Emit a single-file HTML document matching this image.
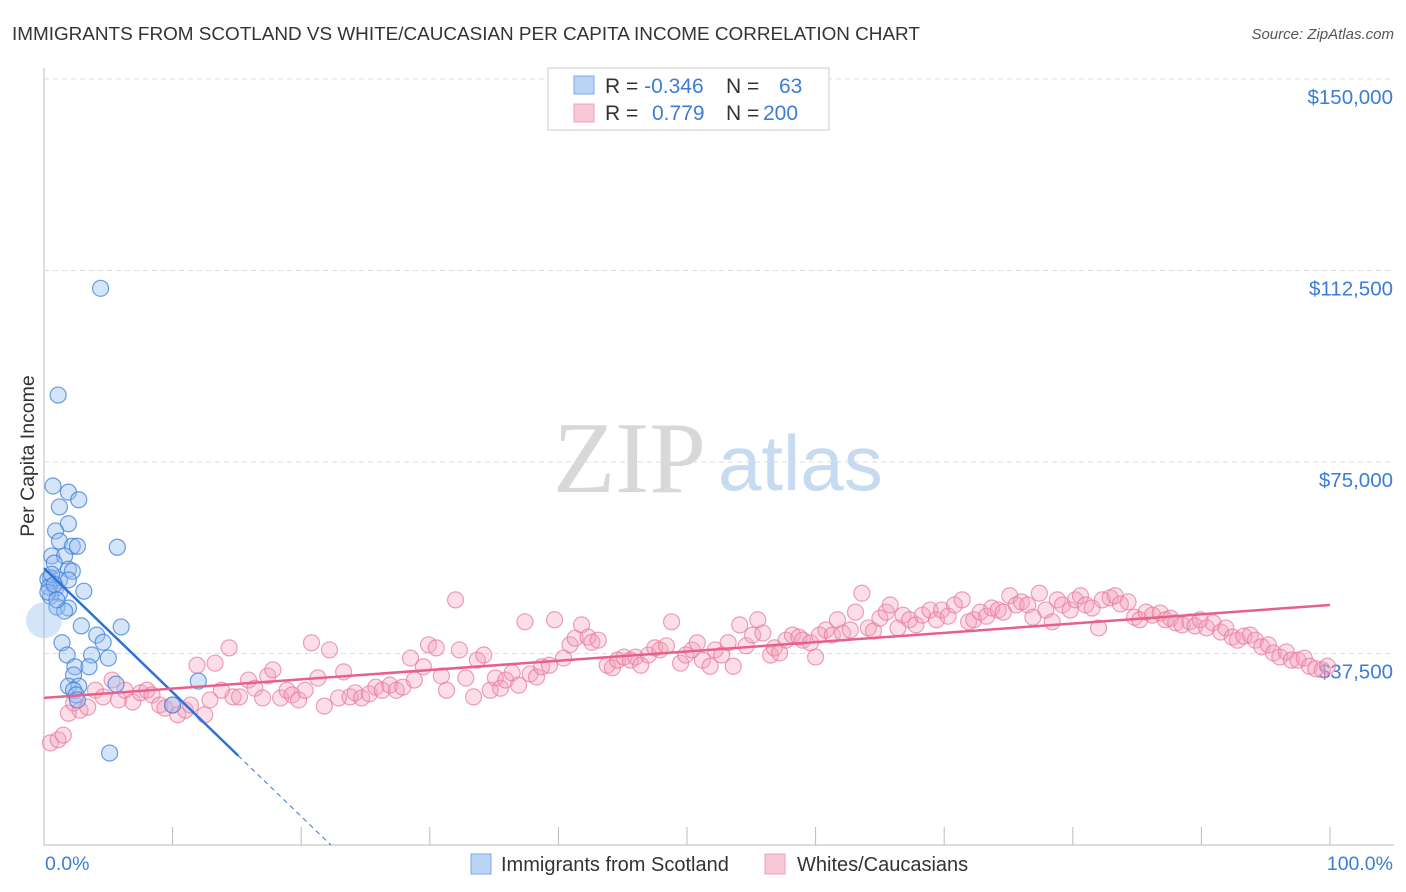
<!DOCTYPE html>
<html><head><meta charset="utf-8">
<style>
body{margin:0;background:#fff;width:1406px;height:892px;overflow:hidden;font-family:"Liberation Sans",sans-serif}
svg{position:absolute;left:0;top:0}
</style></head>
<body>
<svg id="chart" width="1406" height="892">
<text x="12" y="40" font-size="18.9" fill="#333">IMMIGRANTS FROM SCOTLAND VS WHITE/CAUCASIAN PER CAPITA INCOME CORRELATION CHART</text>
<text x="1394" y="39" font-size="15" fill="#555" font-style="italic" text-anchor="end">Source: ZipAtlas.com</text>
<text x="0" y="0" transform="translate(34,456) rotate(-90)" font-size="19.5" fill="#333" text-anchor="middle">Per Capita Income</text>
<text x="553" y="492" font-size="102" fill="#d8d8d8" font-family="Liberation Serif,serif">ZIP</text>
<text x="718" y="490" font-size="78" fill="#c6daf2">atlas</text>
<g id="grid"></g><g id="pts"></g><g id="lines"></g>
<g>
<rect x="548" y="68" width="281" height="62" fill="#fff" stroke="#ccc"/>
<rect x="574" y="76" width="20" height="18" fill="#b9d4f5" stroke="#7aaae8"/>
<rect x="574" y="104" width="20" height="18" fill="#f9c8d6" stroke="#eda0b8"/>
<text x="605" y="93" font-size="21" fill="#333">R = <tspan fill="#3b7dd8">-0.346</tspan><tspan x="726">N = </tspan><tspan x="779" fill="#3b7dd8">63</tspan></text>
<text x="605" y="120" font-size="21" fill="#333">R = <tspan x="652" fill="#3b7dd8">0.779</tspan><tspan x="726">N = </tspan><tspan x="763" fill="#3b7dd8">200</tspan></text>
</g>
<g>
<rect x="471" y="854" width="20" height="20" fill="#b9d4f5" stroke="#7aaae8"/>
<text x="501" y="871" font-size="20" fill="#333">Immigrants from Scotland</text>
<rect x="765" y="854" width="20" height="20" fill="#f9c8d6" stroke="#eda0b8"/>
<text x="797" y="871" font-size="20" fill="#333">Whites/Caucasians</text>
</g>
</svg>
<script>
const yTicks=[37500,75000,112500,150000];
const yTickLabels=["$37,500","$75,000","$112,500","$150,000"];
const xTickPcts=[0,10,20,30,40,50,60,70,80,90,100];
const blueX=[4.4,1.1,0.7,1.9,2.7,1.2,1.9,0.9,1.2,2.2,2.6,5.7,0.6,1.6,0.8,1.9,2.2,0.5,1.2,1.9,0.9,3.1,1.2,0.5,1.0,1.9,1.6,2.9,6.0,4.1,4.6,1.4,1.8,3.7,5.0,2.4,3.5,2.3,1.9,2.7,2.3,2.5,5.6,12.0,10.0,2.6,5.1,0.3,0.4,0.6,0.3,0.8,1.0];
const blueY=[109.0,88.1,70.3,69.1,67.6,66.2,62.9,61.5,59.5,58.5,58.5,58.3,56.6,56.6,55.2,54.0,53.6,52.3,51.9,51.9,50.3,49.7,49.3,48.7,46.6,46.4,45.8,42.9,42.7,41.1,39.7,39.6,37.2,37.2,36.6,34.9,34.9,33.3,31.1,31.1,30.3,29.4,31.5,32.1,27.4,28.4,18.0,52.0,50.5,53.0,49.5,51.0,48.0];
const pinkX=[0.5,1.1,1.5,1.9,2.3,2.8,3.4,4.0,4.6,5.3,5.8,6.3,6.9,7.5,8.0,8.4,9.0,9.4,10.0,10.4,11.0,11.4,11.9,12.5,12.9,13.3,13.8,14.4,14.7,15.2,15.9,16.4,17.0,17.4,17.8,18.4,18.9,19.3,19.8,20.3,20.8,21.3,21.8,22.2,22.9,23.3,23.8,24.2,24.7,25.3,25.8,26.3,26.9,27.4,27.9,28.5,28.8,29.5,29.9,30.5,30.9,31.3,32.0,32.3,32.8,33.4,33.7,34.2,34.7,35.1,35.5,35.9,36.4,36.9,37.4,37.8,38.3,38.7,39.3,39.7,40.4,40.9,41.3,41.8,42.3,42.6,43.1,43.8,44.2,44.6,45.1,45.6,46.0,46.4,47.0,47.5,47.9,48.4,48.8,49.5,49.9,50.4,50.8,51.2,51.8,52.2,52.7,53.2,53.6,54.1,54.6,55.1,55.5,55.9,56.5,56.8,57.2,57.7,58.2,58.7,59.0,59.6,60.0,60.3,60.8,61.3,61.7,62.1,62.7,63.1,63.6,64.1,64.5,65.0,65.5,65.8,66.4,66.8,67.3,67.8,68.3,68.9,69.4,69.8,70.3,70.8,71.4,71.9,72.3,72.8,73.3,73.7,74.2,74.6,75.1,75.6,76.0,76.5,76.9,77.4,77.9,78.4,78.8,79.2,79.8,80.2,80.6,81.0,81.5,82.0,82.3,82.9,83.3,83.7,84.3,84.8,85.2,85.7,86.2,86.8,87.2,87.6,88.0,88.5,89.1,89.5,89.9,90.4,90.9,91.5,91.9,92.4,92.8,93.3,93.8,94.2,94.7,95.2,95.6,96.1,96.6,97.0,97.5,98.0,98.4,98.9,99.4,99.8];
const pinkY=[20.0,20.6,21.5,25.8,27.8,26.4,27.0,30.3,29.0,32.3,28.4,30.3,28.0,29.8,30.3,29.4,27.4,26.8,27.4,25.5,26.4,27.4,35.2,25.5,28.4,35.6,30.3,38.6,29.0,29.0,32.3,30.7,28.8,33.1,34.3,28.8,30.3,29.4,28.4,30.3,39.6,32.7,27.2,38.2,28.8,33.9,29.0,29.8,28.8,29.6,30.9,30.3,31.3,30.3,30.9,36.6,32.3,34.9,39.2,38.6,33.1,30.3,48.0,38.2,32.7,29.0,36.2,37.2,30.3,32.7,30.7,32.3,33.7,31.3,43.7,33.5,32.9,34.9,35.2,44.1,36.6,39.2,40.5,43.1,40.7,39.7,40.1,35.2,34.7,36.2,36.8,36.2,36.8,35.2,37.2,38.6,38.2,39.0,43.7,35.6,37.2,38.2,39.6,36.2,35.0,38.2,37.2,39.6,35.0,43.1,39.0,41.1,44.1,41.5,37.2,38.6,37.6,40.1,41.1,40.7,40.1,39.6,36.8,41.1,42.1,41.1,44.1,41.5,42.1,45.6,49.3,42.5,41.9,44.4,45.6,47.0,42.5,45.0,44.1,43.1,45.0,46.0,44.1,46.0,44.8,47.0,48.0,43.7,44.1,45.6,44.8,46.4,46.0,45.6,48.8,47.0,47.6,47.0,44.6,49.3,46.0,43.7,48.0,47.0,46.0,48.0,48.8,47.0,46.4,42.5,48.0,48.4,48.8,47.2,47.6,44.6,44.1,45.6,45.0,45.4,44.1,44.4,43.5,43.1,43.7,42.9,44.1,42.5,43.5,41.7,42.5,40.7,40.1,40.9,41.1,40.1,38.8,39.2,37.6,36.8,37.8,36.2,36.2,36.6,35.0,34.5,34.3,35.0];
const blueTrend=[54.2,-2.43]; // intercept (k$), slope per %
const pinkTrend=[28.8,0.182];
const NS="http://www.w3.org/2000/svg";
const X0=44,X1=1330,YB=845,PXK=5.107;
const sx=p=>X0+(X1-X0)*p/100;
const sy=k=>YB-k*PXK;
function mk(t,a,parent){const e=document.createElementNS(NS,t);for(const k in a)e.setAttribute(k,a[k]);parent.appendChild(e);return e;}
const grid=document.getElementById('grid');
mk('line',{x1:X0,y1:68,x2:X0,y2:YB,stroke:'#bbb'},grid);
mk('line',{x1:X0,y1:YB,x2:1394,y2:YB,stroke:'#bbb'},grid);
yTicks.forEach((v,i)=>{const y=sy(v/1000);
 const l=mk('line',{x1:X0,y1:y,x2:1394,y2:y,stroke:'#ddd','stroke-dasharray':'5,4'},grid);
 
 
 const t=mk('text',{x:1393,y:y+25,'font-size':20.5,fill:'#3b7dd8','text-anchor':'end'},grid);t.textContent=yTickLabels[i];
 
 });
xTickPcts.forEach(p=>{if(p===0)return;const x=sx(p);
 const l=mk('line',{x1:x,y1:YB,x2:x,y2:YB-18,stroke:'#bbb'},grid);
 
 });
let t=mk('text',{x:45,y:870,'font-size':19.5,fill:'#3b7dd8'},grid);t.textContent='0.0%';


t=mk('text',{x:1393,y:870,'font-size':19.5,fill:'#3b7dd8','text-anchor':'end'},grid);t.textContent='100.0%';


const pts=document.getElementById('pts');
pinkX.forEach((p,i)=>{const c=mk('circle',{cx:sx(p),cy:sy(pinkY[i]),r:8,fill:'rgba(244,160,185,0.35)',stroke:'rgba(232,120,155,0.7)','stroke-width':1.2},pts);
 
 });
blueX.forEach((p,i)=>{const c=mk('circle',{cx:sx(p),cy:sy(blueY[i]),r:8,fill:'rgba(150,190,240,0.4)',stroke:'rgba(60,125,215,0.75)','stroke-width':1.2},pts);
 
 });
const big=mk('circle',{cx:sx(0),cy:sy(44),r:18,fill:'rgba(150,190,240,0.4)',stroke:'none'},pts);


const lines=document.getElementById('lines');
const bz=-blueTrend[0]/blueTrend[1];
let l=mk('line',{x1:sx(0),y1:sy(blueTrend[0]),x2:sx(15.1),y2:sy(blueTrend[0]+blueTrend[1]*15.1),stroke:'#2d72d9','stroke-width':2.5},lines);


l=mk('line',{x1:sx(15.1),y1:sy(blueTrend[0]+blueTrend[1]*15.1),x2:sx(bz),y2:sy(0),stroke:'#2d72d9','stroke-width':1,'stroke-dasharray':'5,4'},lines);


l=mk('line',{x1:sx(0),y1:sy(pinkTrend[0]),x2:sx(100),y2:sy(pinkTrend[0]+pinkTrend[1]*100),stroke:'#e8608a','stroke-width':2.5},lines);


</script>
</body></html>
